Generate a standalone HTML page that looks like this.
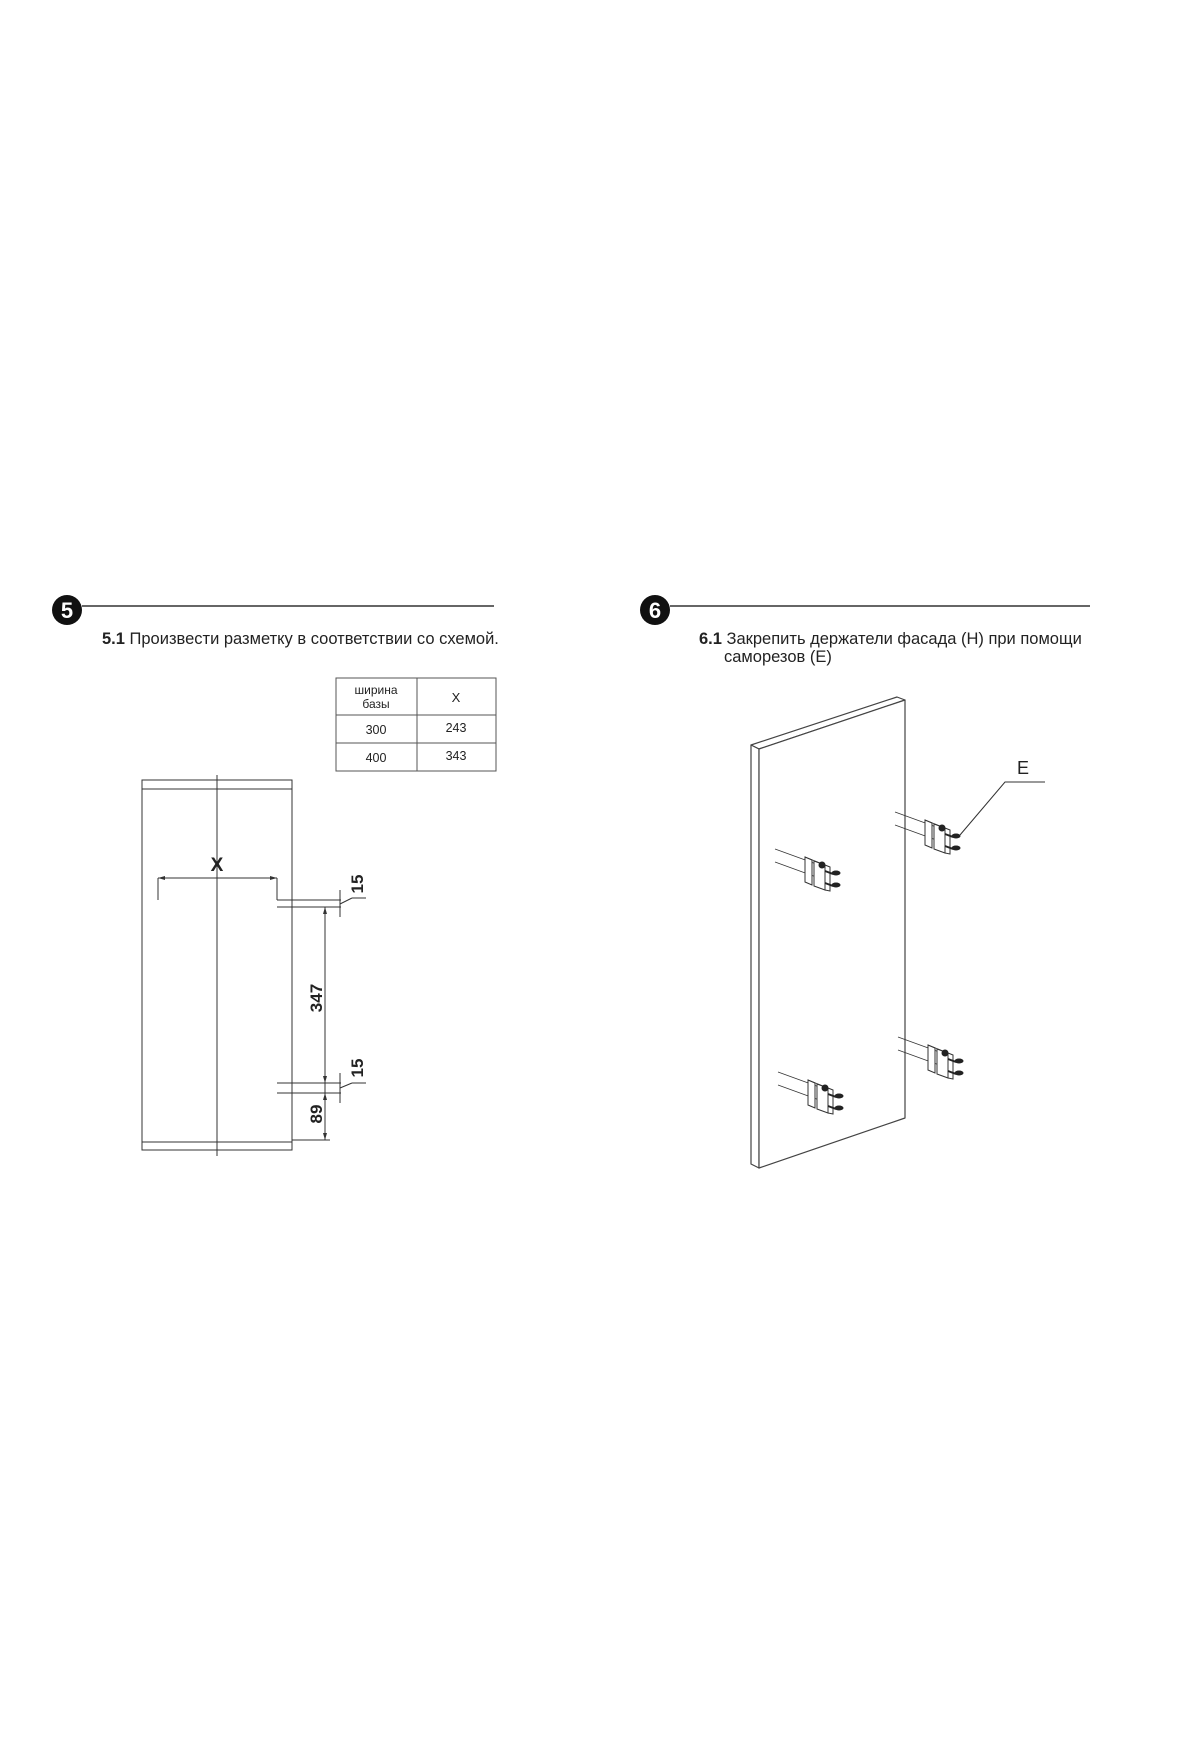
<!DOCTYPE html>
<html><head><meta charset="utf-8"><style>
html,body{margin:0;padding:0;background:#fff}
svg{display:block}
text{font-family:"Liberation Sans",Arial,sans-serif;fill:#222}
</style></head><body>
<svg width="1200" height="1760" viewBox="0 0 1200 1760" xmlns="http://www.w3.org/2000/svg">
<defs>
<g id="br">
  <line x1="-30" y1="-8" x2="14" y2="8" stroke="#333" stroke-width="0.8"/>
  <line x1="-30" y1="5" x2="14" y2="21" stroke="#333" stroke-width="0.8"/>
  <polygon points="0,0 7,3 7,28 0,25" fill="#fff" stroke="#333" stroke-width="1"/>
  <polygon points="9,4 20,8 20,33 9,29" fill="#fff" stroke="#333" stroke-width="1"/>
  <polygon points="20,8 25,10 25,34 20,33" fill="#fff" stroke="#333" stroke-width="1"/>
  <line x1="0" y1="0" x2="20" y2="8" stroke="#333" stroke-width="0.8"/>
  <ellipse cx="17" cy="8" rx="3.5" ry="3.5" fill="#222"/>
  <ellipse cx="31" cy="16" rx="4.5" ry="2.5" fill="#222"/>
  <ellipse cx="31" cy="28" rx="4.5" ry="2.5" fill="#222"/>
  <line x1="20" y1="14" x2="28" y2="17" stroke="#222" stroke-width="2"/>
  <line x1="20" y1="26" x2="28" y2="29" stroke="#222" stroke-width="2"/>
</g>
</defs>

<!-- Section 5 header -->
<circle cx="67" cy="610" r="15" fill="#111"/>
<text x="67" y="618" font-size="22" font-weight="bold" text-anchor="middle" style="fill:#fff">5</text>
<line x1="82" y1="606" x2="494" y2="606" stroke="#333" stroke-width="1.5"/>
<text x="102" y="644" font-size="16.5"><tspan font-weight="bold">5.1</tspan> Произвести разметку в соответствии со схемой.</text>

<!-- table -->
<g stroke="#555" stroke-width="1" fill="none">
<rect x="336" y="678" width="160" height="93"/>
<line x1="417" y1="678" x2="417" y2="771"/>
<line x1="336" y1="715" x2="496" y2="715"/>
<line x1="336" y1="743" x2="496" y2="743"/>
</g>
<text x="376" y="694" font-size="12" text-anchor="middle">ширина</text>
<text x="376" y="708" font-size="12" text-anchor="middle">базы</text>
<text x="456" y="702" font-size="13" text-anchor="middle">X</text>
<text x="376" y="734" font-size="12.5" text-anchor="middle">300</text>
<text x="456" y="732" font-size="12.5" text-anchor="middle">243</text>
<text x="376" y="762" font-size="12.5" text-anchor="middle">400</text>
<text x="456" y="760" font-size="12.5" text-anchor="middle">343</text>

<!-- left drawing -->
<g stroke="#333" stroke-width="1" fill="none">
<rect x="142" y="780" width="150" height="370"/>
<line x1="142" y1="789" x2="292" y2="789"/>
<line x1="142" y1="1142" x2="292" y2="1142"/>
<line x1="217" y1="775" x2="217" y2="1156"/>
<line x1="158" y1="878" x2="277" y2="878"/>
<line x1="158" y1="878" x2="158" y2="900"/>
<line x1="277" y1="878" x2="277" y2="900"/>
<line x1="277" y1="900" x2="341" y2="900"/>
<line x1="277" y1="907" x2="341" y2="907"/>
<line x1="277" y1="1083" x2="341" y2="1083"/>
<line x1="277" y1="1093" x2="341" y2="1093"/>
<line x1="325" y1="907" x2="325" y2="1140"/>
<line x1="292" y1="1140" x2="330" y2="1140"/>
<line x1="340" y1="890" x2="340" y2="917"/>
<line x1="340" y1="1073" x2="340" y2="1103"/>
<line x1="340" y1="904" x2="352" y2="898"/>
<line x1="352" y1="898" x2="366" y2="898"/>
<line x1="340" y1="1088" x2="352" y2="1083"/>
<line x1="352" y1="1083" x2="366" y2="1083"/>
</g>
<g fill="#333">
<polygon points="158,878 165,876 165,880"/>
<polygon points="277,878 270,876 270,880"/>
<polygon points="325,907 323,914 327,914"/>
<polygon points="325,1083 323,1076 327,1076"/>
<polygon points="325,1093 323,1100 327,1100"/>
<polygon points="325,1140 323,1133 327,1133"/>
</g>
<text x="217" y="871" font-size="19" font-weight="bold" text-anchor="middle">X</text>
<text transform="translate(363,884) rotate(-90)" font-size="17" font-weight="bold" text-anchor="middle">15</text>
<text transform="translate(322,998) rotate(-90)" font-size="17" font-weight="bold" text-anchor="middle">347</text>
<text transform="translate(363,1068) rotate(-90)" font-size="17" font-weight="bold" text-anchor="middle">15</text>
<text transform="translate(322,1114) rotate(-90)" font-size="17" font-weight="bold" text-anchor="middle">89</text>

<!-- Section 6 header -->
<circle cx="655" cy="610" r="15" fill="#111"/>
<text x="655" y="618" font-size="22" font-weight="bold" text-anchor="middle" style="fill:#fff">6</text>
<line x1="670" y1="606" x2="1090" y2="606" stroke="#333" stroke-width="1.5"/>
<text x="699" y="644" font-size="16.5"><tspan font-weight="bold">6.1</tspan> Закрепить держатели фасада (Н) при помощи</text>
<text x="724" y="662" font-size="16.5">саморезов (Е)</text>

<!-- panel -->
<g stroke="#444" stroke-width="1.2" fill="#fff" stroke-linejoin="round">
<polygon points="751,745 897,697 905,700 759,749"/>
<polygon points="751,745 759,749 759,1168 751,1164"/>
<polygon points="759,749 905,700 905,1118 759,1168"/>
</g>

<use href="#br" x="805" y="857"/>
<use href="#br" x="925" y="820"/>
<use href="#br" x="808" y="1080"/>
<use href="#br" x="928" y="1045"/>

<text x="1023" y="774" font-size="18" text-anchor="middle">E</text>
<polyline points="1045,782 1005,782 960,835" fill="none" stroke="#333" stroke-width="1"/>
</svg>
</body></html>
